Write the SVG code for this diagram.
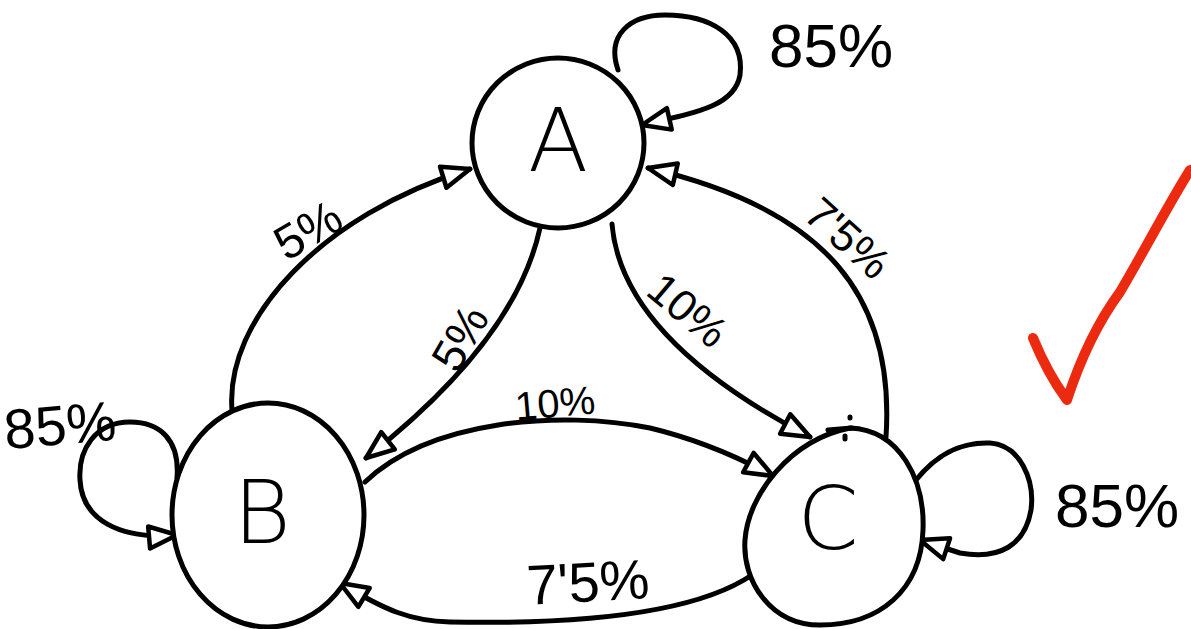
<svg xmlns="http://www.w3.org/2000/svg" width="1191" height="629" viewBox="0 0 1191 629">
<style>
.ink{fill:none;stroke:#000;stroke-width:5;stroke-linecap:round;stroke-linejoin:round}
.node{fill:#fff;stroke:#000;stroke-width:5}
.lbl{font-family:"Liberation Sans",Arial,sans-serif;fill:#000;text-anchor:middle;dominant-baseline:central}
.big{font-family:"DejaVu Sans","Liberation Sans",Arial,sans-serif;font-weight:200;fill:#000;text-anchor:middle;dominant-baseline:central;font-size:88px}
</style>
<defs>
<marker id="arr" viewBox="0 0 34 28" refX="31" refY="14" markerWidth="34" markerHeight="28" markerUnits="userSpaceOnUse" orient="auto">
<path d="M3,3 L31,14 L3,25 Z" fill="#fff" stroke="#000" stroke-width="4.5" stroke-linejoin="round"/>
</marker>
</defs>
<rect width="1191" height="629" fill="#fff"/>
<g id="connectors">
<path class="ink" d="M232,410 C225,320 320,215 470,169" marker-end="url(#arr)"/>
<path class="ink" d="M540,228 C520,320 440,400 366,458" marker-end="url(#arr)"/>
<path class="ink" d="M612,224 C620,320 720,390 810,437" marker-end="url(#arr)"/>
<path class="ink" d="M886,437 C895,300 830,210 648,168" marker-end="url(#arr)"/>
<path class="ink" d="M365,482 C430,420 560,410 650,428 C700,440 740,458 773,476" marker-end="url(#arr)"/>
<path class="ink" d="M752,575 C700,610 600,625 450,622 C410,621 385,610 340,583" marker-end="url(#arr)"/>
<path class="ink" d="M618,70 C606,35 630,15 665,15 C710,15 745,35 740,75 C735,105 700,112 642,125" marker-end="url(#arr)"/>
<path class="ink" d="M177,478 C180,440 160,422 130,422 C95,422 78,450 80,480 C82,520 120,540 177,535" marker-end="url(#arr)"/>
<path class="ink" d="M916,480 C940,450 965,442 990,443 C1020,445 1035,480 1031,510 C1025,545 1000,560 960,553 L920,540" marker-end="url(#arr)"/>
</g>
<g id="node-A">
<ellipse class="node" cx="558" cy="143" rx="86" ry="85"/>
<text class="big" x="558" y="140">A</text>
</g>
<g id="node-B">
<ellipse class="node" cx="268" cy="515" rx="96" ry="112"/>
<text class="big" x="262" y="512">B</text>
</g>
<g id="node-C">
<path class="node" d="M850,428 C900,430 925,480 923,530 C921,590 880,625 820,625 C770,625 742,580 745,540 C748,495 790,440 850,428 Z"/>
<text class="big" x="828" y="518">C</text>
<path class="ink" d="M828,430 L852,428 M850,417 L850,418 M845,436 L845,439"/>
</g>
<g id="labels">
<text class="lbl" x="831" y="45" font-size="62">85%</text>
<text class="lbl" x="60" y="425" font-size="56" transform="rotate(-5 60 425)">85%</text>
<text class="lbl" x="1117" y="505" font-size="62">85%</text>
<text class="lbl" x="308" y="230" font-size="48" transform="rotate(-30 308 230)">5%</text>
<text class="lbl" x="460" y="338" font-size="46" transform="rotate(-60 460 338)">5%</text>
<text class="lbl" x="688" y="310" font-size="44" transform="rotate(40 688 310)">10%</text>
<text class="lbl" x="848" y="238" font-size="44" transform="rotate(42 848 238)">7'5%</text>
<text class="lbl" x="555" y="403" font-size="40" transform="rotate(-5 555 403)">10%</text>
<text class="lbl" x="588" y="582" font-size="56" transform="rotate(-3 588 582)">7'5%</text>
</g>
<path d="M1033,338 C1042,360 1056,385 1067,400 C1080,360 1098,322 1120,292 C1142,255 1168,205 1190,170" fill="none" stroke="#ec2a10" stroke-width="10" stroke-linecap="round" stroke-linejoin="round"/>
</svg>
